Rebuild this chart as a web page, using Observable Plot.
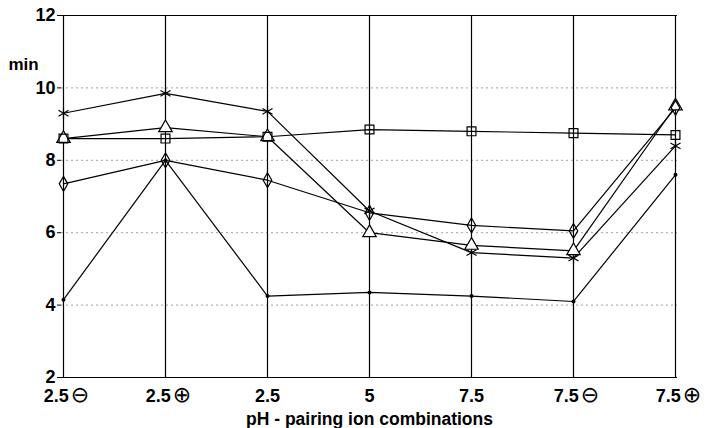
<!DOCTYPE html>
<html>
<head>
<meta charset="utf-8">
<script src="https://cdn.jsdelivr.net/npm/d3@7"></script>
<script src="https://cdn.jsdelivr.net/npm/@observablehq/plot@0.6"></script>
<style>
  html, body { margin: 0; padding: 0; background: white; }
</style>
</head>
<body>
<div id="chart"></div>
<script>
const categories = ["2.5 \u2296", "2.5 \u2295", "2.5", "5", "7.5", "7.5 \u2296", "7.5 \u2295"];
const yTicks = [2, 4, 6, 8, 10, 12];
const gridTicks = [4, 6, 8, 10];
const starValues     = [9.3, 9.85, 9.35, 6.6, 5.45, 5.3, 8.4];
const triangleValues = [8.6, 8.9, 8.65, 6.0, 5.65, 5.5, 9.5];
const squareValues   = [8.6, 8.6, 8.65, 8.85, 8.8, 8.75, 8.7];
const diamondValues  = [7.35, 8.0, 7.45, 6.55, 6.2, 6.05, 9.45];
const dotValues      = [4.15, 8.0, 4.25, 4.35, 4.25, 4.1, 7.6];
const yLabel = "min";
const xLabel = "pH - pairing ion combinations";

const toRows = (vals) => categories.map((c, i) => ({cat: c, v: vals[i]}));
const star = toRows(starValues);
const tri = toRows(triangleValues);
const sq = toRows(squareValues);
const dia = toRows(diamondValues);
const dt = toRows(dotValues);

const lineOpts = {x: "cat", y: "v", stroke: "black", strokeWidth: 1.2};

const chart = Plot.plot({
  width: 706,
  height: 428,
  marginLeft: 61,
  marginRight: 29,
  marginTop: 15,
  marginBottom: 51,
  style: {fontFamily: "'Liberation Sans', Arial, sans-serif", background: "white", color: "black"},
  x: {type: "point", domain: categories, padding: 0},
  y: {domain: [2, 12]},
  marks: [
    Plot.ruleY(gridTicks, {stroke: "#888", strokeWidth: 0.8, strokeDasharray: "2,3"}),
    Plot.ruleY([2, 12], {stroke: "black", strokeWidth: 1.2}),
    Plot.ruleX(categories, {stroke: "black", strokeWidth: 1.2}),
    Plot.axisY({ticks: yTicks, tickSize: 4, tickPadding: 2, fontSize: 18, fontWeight: "bold", label: null}),
    Plot.axisX({tickSize: 0, tickPadding: 12, fontSize: 18, fontWeight: "bold", label: null}),
    Plot.text([yLabel], {frameAnchor: "top-left", dx: -38, dy: 42, fontSize: 17, fontWeight: "bold", textAnchor: "middle"}),
    Plot.text([xLabel], {frameAnchor: "bottom", dy: 42, fontSize: 17.5, fontWeight: "bold", lineAnchor: "middle"}),
    Plot.line(star, lineOpts),
    Plot.line(tri, lineOpts),
    Plot.line(sq, lineOpts),
    Plot.line(dia, lineOpts),
    Plot.line(dt, lineOpts),
    Plot.dot(star, {x: "cat", y: "v", symbol: "asterisk", r: 5.5, stroke: "black", strokeWidth: 1.2}),
    Plot.dot(tri, {x: "cat", y: "v", symbol: "triangle", r: 5, stroke: "black", fill: "white", strokeWidth: 1.2}),
    Plot.dot(sq, {x: "cat", y: "v", symbol: "square", r: 5, stroke: "black", fill: "none", strokeWidth: 1.2}),
    Plot.dot(dia, {x: "cat", y: "v", symbol: "diamond", r: 4.5, stroke: "black", fill: "none", strokeWidth: 1.2}),
    Plot.dot(dt, {x: "cat", y: "v", r: 2, fill: "black"})
  ]
});
document.getElementById("chart").appendChild(chart);

// enlarge the circled sign symbols in the x tick labels, as in the reference
d3.select(chart).selectAll("[aria-label='x-axis tick label'] text").each(function() {
  const t = d3.select(this);
  const s = t.text();
  const m = s.match(/^(.*) ([\u2295\u2296])$/);
  if (!m) return;
  t.text(null);
  t.append("tspan").text(m[1]);
  t.append("tspan").attr("dx", 2).attr("font-size", 22).attr("font-weight", "normal")
    .attr("font-family", "'DejaVu Sans', sans-serif").text(m[2]);
  t.attr("dx", 3);
});
</script>
</body>
</html>
